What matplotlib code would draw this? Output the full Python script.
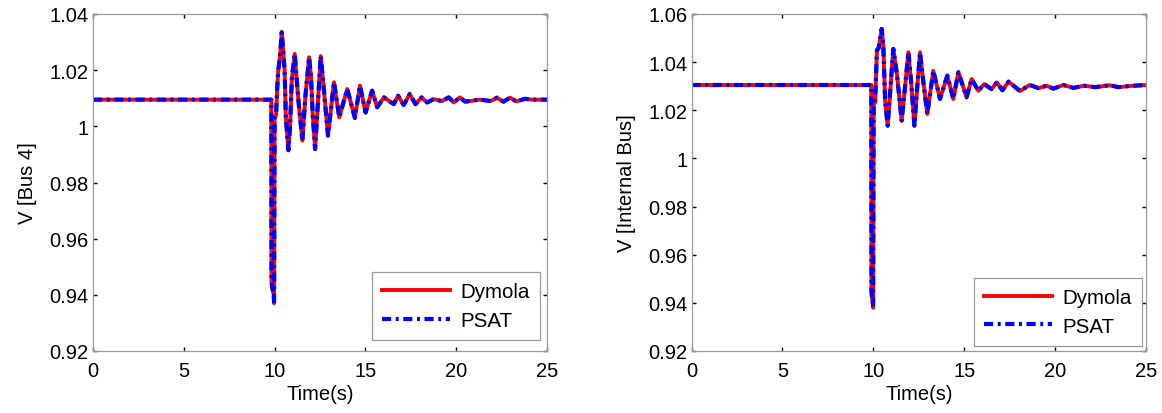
import numpy as np
import matplotlib.pyplot as plt
from matplotlib.ticker import FuncFormatter

plt.rcParams['font.family'] = ['Liberation Sans', 'DejaVu Sans']
plt.rcParams['font.size'] = 14

# Bus 4 voltage (time in s, voltage in pu)
t_bus4 = [0, 9.82, 9.83, 9.86, 9.95, 9.97, 10.0, 10.08, 10.14, 10.2, 10.3, 10.39, 10.45, 10.55,
          10.62, 10.76, 10.85, 10.95, 11.11, 11.2, 11.3, 11.53, 11.7, 11.9, 12.0, 12.1,
          12.23, 12.4, 12.54, 12.7, 12.94, 13.27, 13.56, 14.0, 14.42, 14.7, 15.01, 15.37,
          15.65, 16.02, 16.56, 16.8, 17.11, 17.44, 17.76, 18.09, 18.4, 18.76, 19.2, 19.59,
          19.86, 20.2, 20.5, 21.3, 21.9, 22.24, 22.6, 22.97, 23.3, 23.8, 24.2, 25]
v_bus4 = [1.0095, 1.0095, 0.945, 0.943, 0.940, 0.937, 1.003, 1.004, 1.013, 1.020, 1.025, 1.0335,
          1.029, 1.020, 1.003, 0.9915, 1.000, 1.017, 1.0258, 1.018, 1.010, 0.9949, 1.011,
          1.0246, 1.018, 1.004, 0.9919, 1.010, 1.025, 1.014, 0.9967, 1.0157, 1.0032, 1.0133,
          1.003, 1.0145, 1.0049, 1.0127, 1.0068, 1.0103, 1.0079, 1.0109, 1.0076, 1.0115,
          1.0079, 1.0103, 1.0085, 1.0097, 1.0090, 1.0103, 1.0085, 1.0103, 1.0088, 1.0095,
          1.0090, 1.0102, 1.0088, 1.0102, 1.0089, 1.0098, 1.0095, 1.0095]

# Internal bus voltage
t_int = [0, 9.89, 9.9, 9.93, 9.97, 9.99, 10.02, 10.1, 10.2, 10.3, 10.46, 10.55, 10.65, 10.79,
         10.9, 11.1, 11.3, 11.56, 11.75, 11.93, 12.1, 12.26, 12.4, 12.57, 12.75, 12.97, 13.3,
         13.67, 14.07, 14.4, 14.68, 15.13, 15.41, 15.78, 16.1, 16.5, 16.79, 17.1, 17.44, 18.07,
         18.6, 19.1, 19.53, 19.9, 20.45, 21.0, 21.6, 22.2, 23.0, 23.5, 24.1, 25]
v_int = [1.0305, 1.0305, 0.945, 0.942, 0.940, 0.938, 1.0226, 1.0232, 1.0449, 1.046, 1.0538,
         1.047, 1.024, 1.0136, 1.0247, 1.0455, 1.035, 1.0157, 1.030, 1.0441, 1.030, 1.0136,
         1.028, 1.0441, 1.032, 1.0185, 1.0364, 1.0247, 1.0344, 1.0247, 1.0358, 1.0254, 1.033,
         1.0281, 1.0309, 1.0288, 1.0316, 1.0283, 1.0319, 1.028, 1.0305, 1.0292, 1.0302,
         1.0290, 1.0305, 1.0293, 1.0302, 1.0296, 1.0304, 1.0296, 1.0301, 1.0305]

panels = [
    (t_bus4, v_bus4, 'V [Bus 4]', (0.92, 1.04), [93, 547], (0.9846, 0.0326)),
    (t_int, v_int, 'V [Internal Bus]', (0.92, 1.06), [691.5, 1146], (0.991, 0.015)),
]

W, H = 1162, 414
fig = plt.figure(figsize=(W / 100, H / 100), dpi=100)

for t, v, ylab, ylim, (x0, x1), anchor in panels:
    ax = fig.add_axes([x0 / W, 1 - 352 / H, (x1 - x0) / W, (352 - 15) / H])
    ax.plot(t, v, color='#ff0000', lw=2.8, label='Dymola')
    ax.plot(t, v, color='#0000ff', lw=3.0, linestyle=(0, (2.2, 1.1, 0.7, 1.1)), label='PSAT')
    ax.set_xlim(0, 25)
    ax.set_ylim(*ylim)
    ax.set_xticks(np.arange(0, 26, 5))
    ax.set_yticks(np.arange(ylim[0], ylim[1] + 1e-9, 0.02))
    ax.yaxis.set_major_formatter(FuncFormatter(lambda y, p: f'{round(y, 2):g}'))
    ax.tick_params(direction='in', length=3, width=1, colors='black',
                   top=True, right=True, labelsize=14.5, pad=3)
    ax.tick_params(axis='x', pad=7)
    for s in ax.spines.values():
        s.set_color('#999999')
        s.set_linewidth(0.9)
    ax.set_xlabel('Time(s)', fontsize=14.5, labelpad=3)
    ax.set_ylabel(ylab, fontsize=14.5, labelpad=9)
    leg = ax.legend(loc='lower right', bbox_to_anchor=anchor, borderaxespad=0,
                    fontsize=14.8, handlelength=3.3, fancybox=False, framealpha=1,
                    borderpad=0.5, labelspacing=0.45, handletextpad=0.5)
    leg.get_frame().set_edgecolor('#999999')
    leg.get_frame().set_linewidth(0.9)

fig.savefig('out.png', dpi=100)
